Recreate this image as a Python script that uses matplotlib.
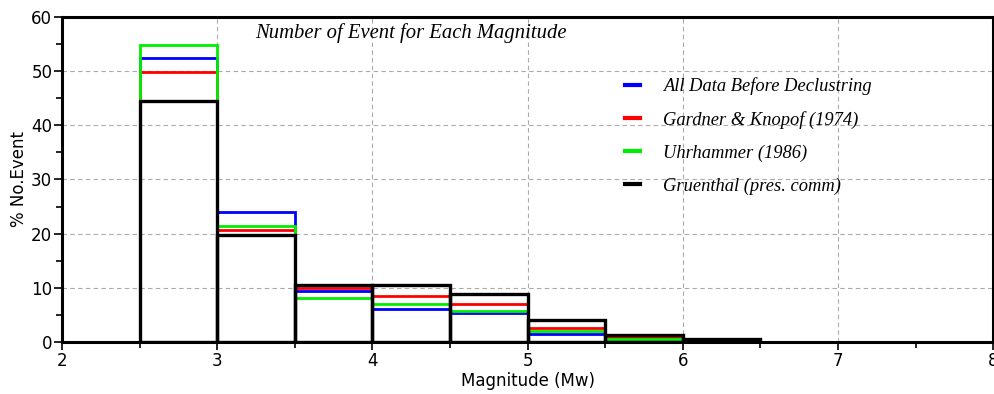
import numpy as np
import matplotlib
matplotlib.use("Agg")
import matplotlib.pyplot as plt
from matplotlib.ticker import MultipleLocator

# bin left edges (Mw), width 0.5
bin_left = [2.5, 3.0, 3.5, 4.0, 4.5, 5.0, 5.5, 6.0]

# % of events per magnitude bin
all_data = [52.4, 24.0, 9.4, 6.1, 5.4, 1.4, 0.5, 0.15]
gardner = [49.8, 20.7, 9.9, 8.5, 7.1, 2.6, 1.0, 0.2]
uhrhammer = [54.9, 21.4, 8.2, 7.0, 5.7, 1.95, 0.6, 0.2]
gruenthal = [44.4, 19.7, 10.5, 10.6, 8.85, 4.1, 1.3, 0.5]

series = [
    ("All Data Before Declustring", all_data, "#0000ff"),
    ("Gardner & Knopof (1974)", gardner, "#ff0000"),
    ("Uhrhammer (1986)", uhrhammer, "#00ee00"),
    ("Gruenthal (pres. comm)", gruenthal, "#000000"),
]

fig = plt.figure(figsize=(9.95, 3.94), dpi=100)
ax = fig.add_axes([0.0623, 0.132, 0.936, 0.825])

for label, vals, col in series:
    lw = 2.4 if col == "#000000" else 2.0
    ax.bar(bin_left, vals, width=0.5, align="edge", fill=False,
           edgecolor=col, linewidth=lw, zorder=3)
    ax.plot([], [], color=col, linewidth=3, label=label)

ax.set_xlim(2, 8)
ax.set_ylim(0, 60)
ax.xaxis.set_major_locator(MultipleLocator(1))
ax.xaxis.set_minor_locator(MultipleLocator(0.5))
ax.yaxis.set_major_locator(MultipleLocator(10))
ax.yaxis.set_minor_locator(MultipleLocator(5))
ax.grid(True, which="major", ls=(0, (4, 3)), color="#aaaaaa", lw=0.8, zorder=0)

for sp in ax.spines.values():
    sp.set_linewidth(2.2)
ax.tick_params(which="major", direction="out", length=6, width=1.2,
               labelsize=12, pad=1)
ax.tick_params(which="minor", direction="out", length=4, width=1.2)

ax.set_xlabel("Magnitude (Mw)", fontsize=12, labelpad=2)
ax.set_ylabel("% No.Event", fontsize=12, labelpad=2)

ax.text(0.207, 0.951, "Number of Event for Each Magnitude", transform=ax.transAxes,
        family="Liberation Serif", style="italic", fontsize=14.9, va="center")

leg = ax.legend(loc="upper left", bbox_to_anchor=(0.587, 0.865), frameon=False,
                prop={"family": "Liberation Serif", "style": "italic", "size": 13.3},
                handlelength=0.8, labelspacing=0.85, handletextpad=1.25)

fig.savefig("out.png", dpi=100)
